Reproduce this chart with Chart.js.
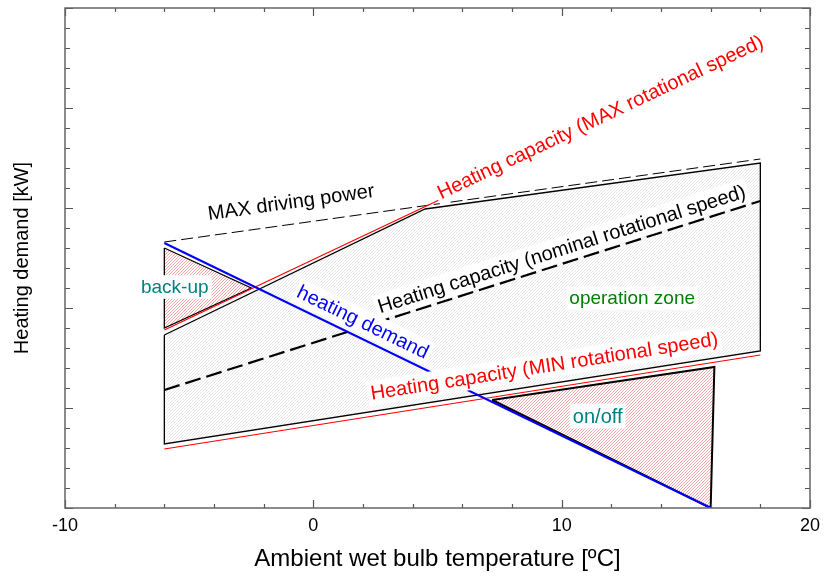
<!DOCTYPE html>
<html>
<head>
<meta charset="utf-8">
<script src="https://cdn.jsdelivr.net/npm/chart.js@4.4.0/dist/chart.umd.min.js"></script>
<style>
  html, body { margin: 0; padding: 0; background: #fff; }
  #wrap { width: 827px; height: 579px; }
</style>
</head>
<body>
<div id="wrap"><canvas id="heatChart"></canvas></div>
<script>
// operation zone polygon (closed)
const zoneX = [-6, 4.5, 18, 18, -6, -6];
const zoneY = [8.65, 14.95, 17.25, 7.85, 3.2, 8.65];

// straight lines
const maxPowerX = [-6, 18];
const maxPowerY = [13.3, 17.45];
const capMaxX = [-6, 18];
const capMaxY = [8.9, 23.0];
const capNomX = [-6, 18];
const capNomY = [5.9, 15.35];
const capMinX = [-6, 18];
const capMinY = [2.95, 7.65];
const demandX = [-6, 16];
const demandY = [13.25, 0];

// hatched triangles (closed)
const backupX = [-6, -2.5, -6, -6];
const backupY = [13.0, 11.0, 9.0, 13.0];
const onoffX = [7.2, 16.15, 16.0, 7.2];
const onoffY = [5.4, 7.05, 0, 5.4];

// axis ticks
const xTickValues = [-10, -8, -6, -4, -2, 0, 2, 4, 6, 8, 10, 12, 14, 16, 18, 20];
const xTickLabels = ['-10', '0', '10', '20'];
const yTickValues = [];
for (let v = 0; v <= 25; v++) yTickValues.push(v);

function pts(xs, ys) {
    return xs.map((x, i) => ({ x: x, y: ys[i] }));
}

// diagonal hatch tile, lines running bottom-left to top-right
function hatch(color) {
    const n = 3;
    const c = document.createElement('canvas');
    c.width = n;
    c.height = n;
    const g = c.getContext('2d');
    const img = g.createImageData(n, n);
    const rgb = [parseInt(color.slice(1, 3), 16), parseInt(color.slice(3, 5), 16), parseInt(color.slice(5, 7), 16)];
    for (let yy = 0; yy < n; yy++) {
        for (let xx = 0; xx < n; xx++) {
            const i = (yy * n + xx) * 4;
            const on = (xx + yy) % n === n - 1;
            img.data[i] = on ? rgb[0] : 255;
            img.data[i + 1] = on ? rgb[1] : 255;
            img.data[i + 2] = on ? rgb[2] : 255;
            img.data[i + 3] = 255;
        }
    }
    g.putImageData(img, 0, 0);
    return g.createPattern(c, 'repeat');
}

const labelFont = '"Liberation Sans", Arial, sans-serif';
const labels = [
    { text: 'Heating capacity (MAX rotational speed)', x: 11.55, y: 19.55, color: '#ff0000', size: 20, along: [capMaxX, capMaxY], bg: true },
    { text: 'MAX driving power', x: -0.9, y: 15.3, color: '#000000', size: 20, along: [maxPowerX, maxPowerY], bg: false },
    { text: 'Heating capacity (nominal rotational speed)', x: 10.0, y: 12.95, color: '#000000', size: 20, along: [capNomX, capNomY], bg: true },
    { text: 'heating demand', x: 2.0, y: 9.3, color: '#0000ff', size: 20, along: [demandX, demandY], bg: true },
    { text: 'back-up', x: -5.58, y: 11.05, color: '#008080', size: 19, along: null, bg: true },
    { text: 'operation zone', x: 12.84, y: 10.5, color: '#008000', size: 19, along: null, bg: true },
    { text: 'Heating capacity (MIN rotational speed)', x: 9.3, y: 7.1, color: '#ff0000', size: 20, along: [capMinX, capMinY], bg: true },
    { text: 'on/off', x: 11.45, y: 4.6, color: '#008080', size: 20, along: null, bg: true }
];

// inward ticks on all four sides plus the frame
const framePlugin = {
    id: 'frame',
    afterDraw(chart) {
        const ctx = chart.ctx;
        const a = chart.chartArea;
        const xs = chart.scales.x;
        const ys = chart.scales.y;
        ctx.save();
        ctx.strokeStyle = '#555555';
        ctx.lineWidth = 1.2;
        ctx.beginPath();
        xTickValues.forEach(v => {
            const px = Math.round(xs.getPixelForValue(v)) + 0.5;
            const len = v % 10 === 0 ? 8 : 4;
            ctx.moveTo(px, a.bottom); ctx.lineTo(px, a.bottom - len);
            ctx.moveTo(px, a.top); ctx.lineTo(px, a.top + len);
        });
        yTickValues.forEach(v => {
            const py = Math.round(ys.getPixelForValue(v)) + 0.5;
            const len = v % 5 === 0 ? 8 : 5;
            ctx.moveTo(a.left, py); ctx.lineTo(a.left + len, py);
            ctx.moveTo(a.right, py); ctx.lineTo(a.right - len, py);
        });
        ctx.stroke();
        ctx.strokeStyle = '#666666';
        ctx.lineWidth = 1.5;
        ctx.strokeRect(a.left, a.top, a.right - a.left, a.bottom - a.top);
        ctx.restore();
    }
};

const labelPlugin = {
    id: 'labels',
    afterDatasetsDraw(chart) {
        const ctx = chart.ctx;
        const xs = chart.scales.x;
        const ys = chart.scales.y;
        ctx.save();
        ctx.textAlign = 'center';
        ctx.textBaseline = 'middle';
        labels.forEach(l => {
            const px = xs.getPixelForValue(l.x);
            const py = ys.getPixelForValue(l.y);
            let ang = 0;
            if (l.along) {
                const [lx, ly] = l.along;
                const x1 = xs.getPixelForValue(lx[0]), y1 = ys.getPixelForValue(ly[0]);
                const x2 = xs.getPixelForValue(lx[1]), y2 = ys.getPixelForValue(ly[1]);
                ang = Math.atan2(y2 - y1, x2 - x1);
            }
            ctx.save();
            ctx.font = l.size + 'px ' + labelFont;
            ctx.translate(px, py);
            ctx.rotate(ang);
            const w = ctx.measureText(l.text).width;
            if (l.bg) {
                ctx.fillStyle = '#ffffff';
                ctx.fillRect(-w / 2 - 3, -l.size * 0.62, w + 6, l.size * 1.24);
            }
            ctx.fillStyle = l.color;
            ctx.fillText(l.text, 0, 1);
            ctx.restore();
        });
        ctx.restore();
    }
};

const ctx = document.getElementById('heatChart');
new Chart(ctx.getContext('2d'), {
    type: 'scatter',
    data: {
        datasets: [
            {
                label: 'operation zone',
                data: pts(zoneX, zoneY),
                showLine: true,
                fill: 'shape',
                backgroundColor: hatch('#e8e8e8'),
                borderColor: '#000000',
                borderWidth: 1.3,
                pointRadius: 0,
                order: 9
            },
            {
                label: 'back-up',
                data: pts(backupX, backupY),
                showLine: true,
                fill: 'shape',
                backgroundColor: hatch('#f6a8a8'),
                borderColor: '#000000',
                borderWidth: 1.3,
                pointRadius: 0,
                order: 8
            },
            {
                label: 'on/off',
                data: pts(onoffX, onoffY),
                showLine: true,
                fill: 'shape',
                backgroundColor: hatch('#f6a8a8'),
                borderColor: '#000000',
                borderWidth: 2,
                pointRadius: 0,
                order: 7
            },
            {
                label: 'MAX driving power',
                data: pts(maxPowerX, maxPowerY),
                showLine: true,
                fill: false,
                borderColor: '#000000',
                borderWidth: 1,
                borderDash: [12, 5],
                pointRadius: 0,
                order: 6
            },
            {
                label: 'Heating capacity (MAX rotational speed)',
                data: pts(capMaxX, capMaxY),
                showLine: true,
                fill: false,
                borderColor: '#ff0000',
                borderWidth: 1.2,
                pointRadius: 0,
                order: 5
            },
            {
                label: 'Heating capacity (nominal rotational speed)',
                data: pts(capNomX, capNomY),
                showLine: true,
                fill: false,
                borderColor: '#000000',
                borderWidth: 2.2,
                borderDash: [16, 6],
                pointRadius: 0,
                order: 4
            },
            {
                label: 'Heating capacity (MIN rotational speed)',
                data: pts(capMinX, capMinY),
                showLine: true,
                fill: false,
                borderColor: '#ff0000',
                borderWidth: 1.2,
                pointRadius: 0,
                order: 3
            },
            {
                label: 'heating demand',
                data: pts(demandX, demandY),
                showLine: true,
                fill: false,
                borderColor: '#0000ff',
                borderWidth: 2,
                pointRadius: 0,
                order: 1
            }
        ]
    },
    options: {
        responsive: true,
        maintainAspectRatio: false,
        animation: false,
        layout: {
            padding: { top: 8, right: 8, left: 0, bottom: 0 }
        },
        plugins: {
            legend: { display: false },
            tooltip: { enabled: false }
        },
        scales: {
            x: {
                type: 'linear',
                min: -10,
                max: 20,
                grid: { display: false, drawTicks: false },
                border: { display: false },
                ticks: {
                    stepSize: 2,
                    autoSkip: false,
                    maxRotation: 0,
                    padding: 7,
                    color: '#000000',
                    font: { family: labelFont, size: 18 },
                    callback: function(value) {
                        const s = String(value);
                        return xTickLabels.includes(s) ? s : '';
                    }
                },
                title: {
                    display: true,
                    text: 'Ambient wet bulb temperature [ºC]',
                    color: '#000000',
                    font: { family: labelFont, size: 24 },
                    padding: { top: 0, bottom: 5 }
                },
                afterFit: function(scale) { scale.height = 71; }
            },
            y: {
                type: 'linear',
                min: 0,
                max: 25,
                grid: { display: false, drawTicks: false },
                border: { display: false },
                ticks: { display: false },
                title: {
                    display: true,
                    text: 'Heating demand [kW]',
                    color: '#000000',
                    font: { family: labelFont, size: 20 },
                    padding: { top: 10, bottom: 0 }
                },
                afterFit: function(scale) { scale.width = 65; }
            }
        }
    },
    plugins: [framePlugin, labelPlugin]
});
</script>
</body>
</html>
